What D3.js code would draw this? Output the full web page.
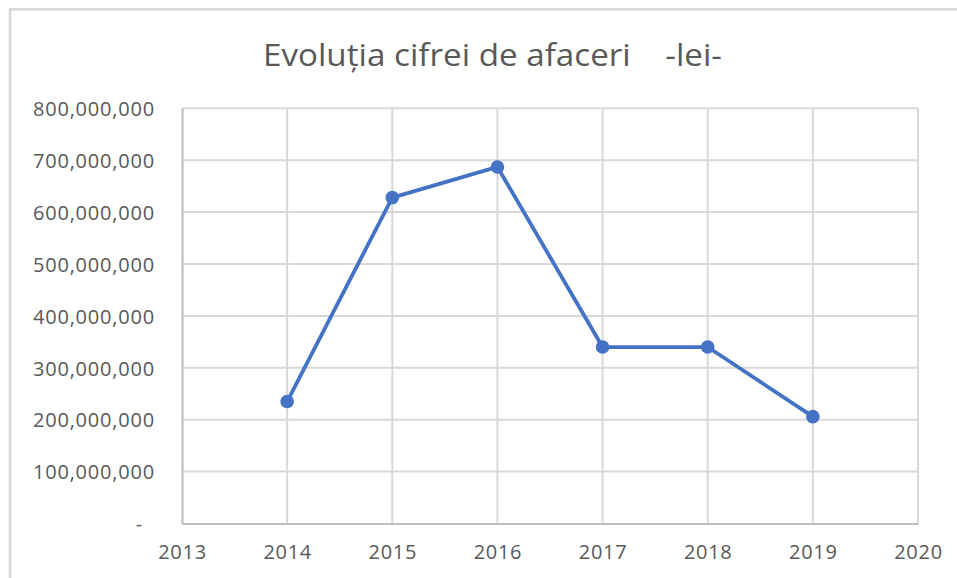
<!DOCTYPE html>
<html>
<head>
<meta charset="utf-8">
<script src="https://cdn.jsdelivr.net/npm/d3@7"></script>
<style>
  html, body { margin: 0; padding: 0; background: #fff; }
  svg { display: block; }
</style>
</head>
<body>
<svg id="chart" width="957" height="578"></svg>
<script>
const titleText = "Evoluția cifrei de afaceri    -lei-";
const years = [2014, 2015, 2016, 2017, 2018, 2019];
const revenue = [235000000, 628000000, 687000000, 340000000, 340000000, 206000000];
const xTicks = [2013, 2014, 2015, 2016, 2017, 2018, 2019, 2020];
const yTicks = [0, 100000000, 200000000, 300000000, 400000000, 500000000, 600000000, 700000000, 800000000];

const svg = d3.select("#chart");
const plot = { left: 182, right: 918, top: 108.3, bottom: 523.5 };

// outer chart border
svg.append("rect")
  .attr("x", 10).attr("y", 9.3)
  .attr("width", 1000).attr("height", 700)
  .attr("fill", "#fff")
  .attr("stroke", "#d9d9d9")
  .attr("stroke-width", 2.6);

// title
svg.append("text")
  .attr("x", 492.5).attr("y", 66)
  .attr("text-anchor", "middle")
  .attr("font-family", "'Open Sans', sans-serif")
  .attr("font-size", 31)
  .attr("fill", "#595959")
  .style("white-space", "pre")
  .attr("textLength", 459)
  .attr("lengthAdjust", "spacingAndGlyphs")
  .text(titleText);

const x = d3.scaleLinear().domain([2013, 2020]).range([plot.left, plot.right]);
const y = d3.scaleLinear().domain([0, 800000000]).range([plot.bottom, plot.top]);

// horizontal gridlines
svg.append("g")
  .selectAll("line")
  .data(yTicks.filter(d => d > 0))
  .join("line")
  .attr("x1", plot.left).attr("x2", plot.right)
  .attr("y1", d => y(d)).attr("y2", d => y(d))
  .attr("stroke", "#d9d9d9").attr("stroke-width", 2);

// vertical gridlines
svg.append("g")
  .selectAll("line")
  .data(xTicks.filter(d => d > 2013))
  .join("line")
  .attr("x1", d => x(d)).attr("x2", d => x(d))
  .attr("y1", plot.top).attr("y2", plot.bottom)
  .attr("stroke", "#d9d9d9").attr("stroke-width", 2);

// Y axis
const fmt = d3.format(",");
const yAxis = svg.append("g")
  .attr("transform", `translate(${plot.left},0)`)
  .call(d3.axisLeft(y).tickValues(yTicks).tickSize(0).tickPadding(27)
    .tickFormat(d => d === 0 ? "-" : fmt(d)));
yAxis.select(".domain").attr("stroke", "#bfbfbf").attr("stroke-width", 2.2);
yAxis.selectAll("text")
  .attr("font-family", "'Open Sans', sans-serif")
  .attr("font-size", 20)
  .attr("letter-spacing", 0.8)
  .attr("fill", "#595959")
  .attr("dy", "0.36em")
  .attr("dx", d => d === 0 ? -12 : 0);

// X axis
const xAxis = svg.append("g")
  .attr("transform", `translate(0,${plot.bottom})`)
  .call(d3.axisBottom(x).tickValues(xTicks).tickSize(0).tickPadding(21)
    .tickFormat(d3.format("d")));
xAxis.select(".domain").attr("stroke", "#bfbfbf").attr("stroke-width", 2.2);
xAxis.selectAll("text")
  .attr("font-family", "'Open Sans', sans-serif")
  .attr("font-size", 20)
  .attr("letter-spacing", 0.7)
  .attr("fill", "#595959");

// series
const pts = years.map((yr, i) => ({ yr, v: revenue[i] }));
const line = d3.line().x(d => x(d.yr)).y(d => y(d.v));
svg.append("path")
  .datum(pts)
  .attr("d", line)
  .attr("fill", "none")
  .attr("stroke", "#4472C4")
  .attr("stroke-width", 3.8)
  .attr("stroke-linejoin", "round");

svg.append("g")
  .selectAll("circle")
  .data(pts)
  .join("circle")
  .attr("cx", d => x(d.yr))
  .attr("cy", d => y(d.v))
  .attr("r", 6.8)
  .attr("fill", "#4472C4");
</script>
</body>
</html>
